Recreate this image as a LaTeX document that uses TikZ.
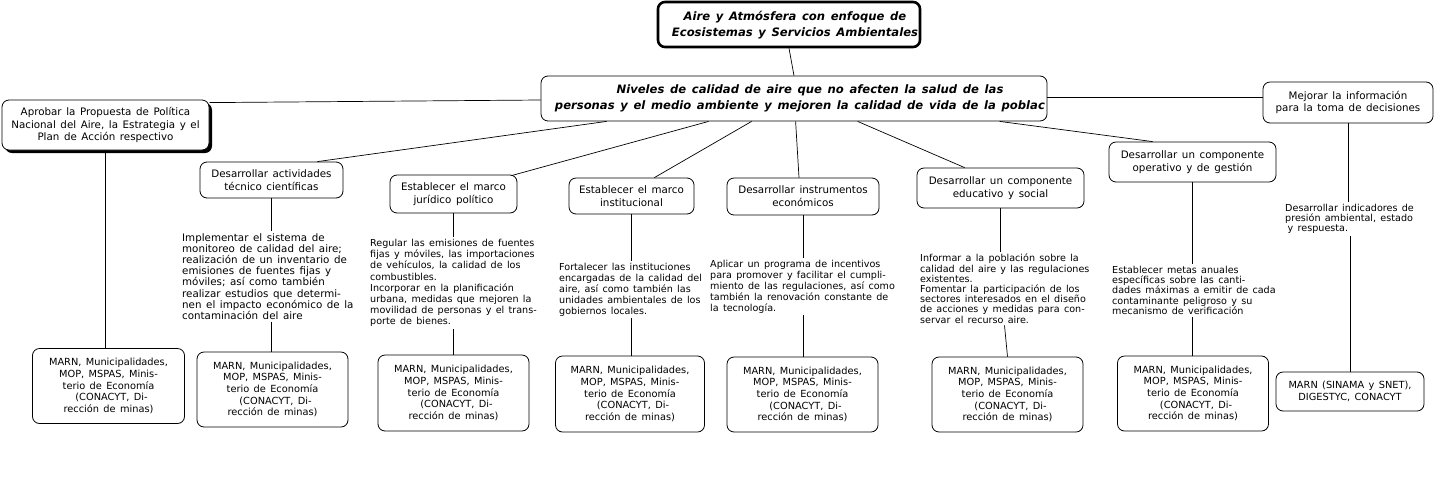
\documentclass[tikz,border=0pt]{standalone}
\usepackage{fontspec}
\setmainfont{DejaVu Sans}[WordSpace=1.4]
\usetikzlibrary{shadows}
\begin{document}
\begin{tikzpicture}[x=1pt,y=-1pt,
  every node/.style={inner sep=0pt},
  bx/.style={draw, line width=0.8pt, rounded corners=7pt, fill=white, align=center},
  lvtwo/.style={bx, font=\fontsize{10.3}{12.8}\selectfont},
  agency/.style={bx, font=\fontsize{9.8}{11.7}\selectfont, minimum width=151pt, minimum height=75pt},
  desc/.style={anchor=north west, align=left, inner sep=2pt, font=\fontsize{9.6}{10.9}\selectfont},
  titlefont/.style={font=\fontsize{11.6}{15.5}\selectfont\bfseries\itshape, align=center},
  link/.style={line width=0.7pt}
]
\fill[white] (0,0) rectangle (1434,488);
\useasboundingbox (0,0) rectangle (1434,488);

% root
\node[bx, line width=2.6pt, minimum width=262pt, minimum height=45pt] (root) at (789,24.5) {};
\begin{scope}
\clip ([xshift=2pt,yshift=2pt]root.south west) rectangle ([xshift=-2pt,yshift=-2pt]root.north east);
\node[titlefont] (roottext) at (795,25) {Aire y Atmósfera con enfoque de\\Ecosistemas y Servicios Ambientales};
\end{scope}

% level 1
\node[bx, minimum width=506pt, minimum height=45pt] (lvl) at (794,98.5) {};
\begin{scope}
\clip ([xshift=2pt,yshift=2pt]lvl.south west) rectangle ([xshift=-3pt,yshift=-2pt]lvl.north east);
\node[titlefont] (lvltext) at (810,98.5) {Niveles de calidad de aire que no afecten la salud de las\\personas y el medio ambiente y mejoren la calidad de vida de la población};
\end{scope}

% side boxes
\node[bx, minimum width=207pt, minimum height=50pt, font=\fontsize{10.3}{12.5}\selectfont,
      drop shadow={shadow xshift=3pt, shadow yshift=-3pt, fill=black, opacity=1}] (apr) at (105.5,125)
  {Aprobar la Propuesta de Política\\Nacional del Aire, la Estrategia y el\\Plan de Acción respectivo};
\node[lvtwo, minimum width=170pt, minimum height=41pt] (mej) at (1348,102.5)
  {Mejorar la información\\para la toma de decisiones};

% level 2 boxes
\node[lvtwo, minimum width=143pt, minimum height=36pt] (A) at (271.5,180) {Desarrollar actividades\\técnico científicas};
\node[lvtwo, minimum width=127pt, minimum height=38pt] (B) at (453.5,194) {Establecer el marco\\jurídico político};
\node[lvtwo, minimum width=125pt, minimum height=36pt] (C) at (631.5,196) {Establecer el marco\\institucional};
\node[lvtwo, minimum width=152pt, minimum height=37pt] (D) at (803,196.5) {Desarrollar instrumentos\\económicos};
\node[lvtwo, minimum width=167pt, minimum height=40pt] (E) at (1000.5,188) {Desarrollar un componente\\educativo y social};
\node[lvtwo, minimum width=167pt, minimum height=40pt] (F) at (1192.5,162) {Desarrollar un componente\\operativo y de gestión};

% descriptions
\node[desc, font=\fontsize{10.3}{11.2}\selectfont] (dA) at (180,231) {Implementar el sistema de\\monitoreo de calidad del aire;\\realización de un inventario de\\emisiones de fuentes fijas y\\móviles; así como también\\realizar estudios que determi-\\nen el impacto económico de la\\contaminación del aire};
\node[desc, font=\fontsize{9.6}{11.2}\selectfont] (dB) at (368,237) {Regular las emisiones de fuentes\\fijas y móviles, las importaciones\\de vehículos, la calidad de los\\combustibles.\\Incorporar en la planificación\\urbana, medidas que mejoren la\\movilidad de personas y el trans-\\porte de bienes.};
\node[desc] (dC) at (557,261) {Fortalecer las instituciones\\encargadas de la calidad del\\aire, así como también las\\unidades ambientales de los\\gobiernos locales.};
\node[desc] (dD) at (708,258) {Aplicar un programa de incentivos\\para promover y facilitar el cumpli-\\miento de las regulaciones, así como\\también la renovación constante de\\la tecnología.};
\node[desc, font=\fontsize{9.6}{10.2}\selectfont] (dE) at (918,252) {Informar a la población sobre la\\calidad del aire y las regulaciones\\existentes.\\Fomentar la participación de los\\sectores interesados en el diseño\\de acciones y medidas para con-\\servar el recurso aire.};
\node[desc, font=\fontsize{9.6}{10.2}\selectfont] (dF) at (1110,264) {Establecer metas anuales\\específicas sobre las canti-\\dades máximas a emitir de cada\\contaminante peligroso y su\\mecanismo de verificación};
\node[desc, font=\fontsize{9.6}{10.2}\selectfont] (dG) at (1283,202) {Desarrollar indicadores de\\presión ambiental, estado\\\hspace{2.5pt}y respuesta.};

% agencies
\node[agency, minimum width=152pt, minimum height=75pt] (P0) at (108.5,386) {MARN, Municipalidades,\\MOP, MSPAS, Minis-\\terio de Economía\\\hspace{6pt}(CONACYT, Di-\\rección de minas)};
\node[agency] (P1) at (272.5,389.5) {MARN, Municipalidades,\\MOP, MSPAS, Minis-\\terio de Economía\\\hspace{6pt}(CONACYT, Di-\\rección de minas)};
\node[agency, minimum height=76pt] (P2) at (453.5,393) {MARN, Municipalidades,\\MOP, MSPAS, Minis-\\terio de Economía\\\hspace{6pt}(CONACYT, Di-\\rección de minas)};
\node[agency, minimum width=149pt, minimum height=76pt] (P3) at (630,394) {MARN, Municipalidades,\\MOP, MSPAS, Minis-\\terio de Economía\\\hspace{6pt}(CONACYT, Di-\\rección de minas)};
\node[agency, minimum height=75pt] (P4) at (802.5,394.5) {MARN, Municipalidades,\\MOP, MSPAS, Minis-\\terio de Economía\\\hspace{6pt}(CONACYT, Di-\\rección de minas)};
\node[agency, minimum height=75pt] (P5) at (1007.5,394.5) {MARN, Municipalidades,\\MOP, MSPAS, Minis-\\terio de Economía\\\hspace{6pt}(CONACYT, Di-\\rección de minas)};
\node[agency, minimum height=75pt] (P6) at (1193,393.5) {MARN, Municipalidades,\\MOP, MSPAS, Minis-\\terio de Economía\\\hspace{6pt}(CONACYT, Di-\\rección de minas)};
\node[agency, minimum width=148pt, minimum height=39pt] (P7) at (1350,391.5) {MARN (SINAMA y SNET),\\DIGESTYC, CONACYT};

% connectors
\draw[link] (root.south) -- (lvl.north);
\draw[link] ([yshift=-1.5pt]lvl.west) -- ([yshift=-3pt]apr.north east);
\draw[link] ([yshift=1.5pt]lvl.east) -- ([yshift=5.5pt]mej.west);
\draw[link] ([xshift=66pt]lvl.south west) -- ([xshift=-26pt]A.north east);
\draw[link] ([xshift=168pt]lvl.south west) -- ([xshift=-6pt,yshift=-1pt]B.north east);
\draw[link] ([xshift=211pt]lvl.south west) -- ([xshift=-40pt]C.north east);
\draw[link] ([xshift=255pt]lvl.south west) -- ([xshift=-4pt]D.north);
\draw[link] ([xshift=317pt]lvl.south west) -- ([xshift=48pt]E.north west);
\draw[link] ([xshift=459pt]lvl.south west) -- ([xshift=44pt]F.north west);

\draw[link] (apr.south) -- (apr.south |- P0.north);
\draw[link] (A.south) -- (A.south |- dA.north);
\draw[link] (dA.south -| A.south) -- (A.south |- P1.north);
\draw[link] (B.south) -- (B.south |- dB.north);
\draw[link] (dB.south -| B.south) -- (B.south |- P2.north);
\draw[link] (C.south) -- (C.south |- dC.north);
\draw[link] (dC.south -| C.south) -- (C.south |- P3.north);
\draw[link] (D.south) -- (D.south |- dD.north);
\draw[link] (dD.south -| D.south) -- (D.south |- P4.north);
\draw[link] (E.south) -- (E.south |- dE.north);
\draw[link] ([xshift=4pt]dE.south -| E.south) -- (P5.north);
\draw[link] (F.south) -- (F.south |- dF.north);
\draw[link] (dF.south -| F.south) -- (F.south |- P6.north);
\draw[link] (mej.south) -- (mej.south |- dG.north);
\draw[link] ([xshift=2pt]dG.south -| mej.south) -- (P7.north);
\end{tikzpicture}
\end{document}
